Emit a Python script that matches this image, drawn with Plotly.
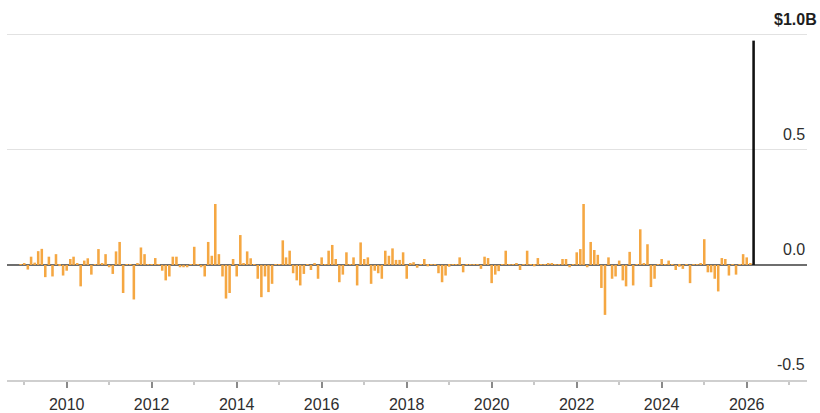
import pandas as pd
import plotly.graph_objects as go

# Monthly net flows, $ billions, Dec 2008 through Feb 2026
start_month = "2008-12-01"
flows = [
    0.004, 0.006, -0.02, 0.036, 0.01, 0.06, 0.07, -0.053, 0.036, -0.05,
    0.047, -0.005, -0.046, -0.025, 0.026, 0.036, 0.005, -0.093, 0.019, 0.029,
    -0.042, 0.003, 0.069, 0.005, 0.047, -0.01, -0.039, 0.059, 0.10, -0.122,
    0.003, 0.002, -0.15, 0.008, 0.076, 0.047, 0.004, 0.002, 0.030, 0.004,
    -0.025, -0.067, -0.05, 0.036, 0.036, -0.01, -0.01, -0.01, 0.003, 0.079,
    0.002, -0.01, -0.05, 0.10, 0.04, 0.265, 0.047, -0.05, -0.146, -0.122,
    0.026, -0.05, 0.13, 0.005, 0.059, 0.029, 0.003, -0.06, -0.14, -0.05,
    -0.118, -0.082, 0.004, 0.003, 0.107, 0.033, 0.062, -0.036, -0.067, -0.089,
    -0.039, 0.004, -0.022, 0.006, -0.06, 0.033, 0.004, 0.062, 0.087, 0.026,
    -0.075, -0.042, 0.055, 0.004, 0.033, -0.089, 0.098, 0.026, 0.033, -0.082,
    -0.025, -0.036, -0.06, 0.062, 0.04, 0.072, 0.022, 0.022, 0.055, -0.06,
    0.008, 0.012, -0.012, 0.004, 0.026, -0.006, 0.003, 0.004, -0.036, -0.075,
    -0.046, -0.008, 0.003, 0.004, 0.033, -0.032, 0.003, 0.002, 0.004, 0.003,
    -0.017, 0.036, 0.03, -0.079, -0.042, -0.027, 0.004, 0.062, 0.004, 0.003,
    0.005, -0.022, 0.003, 0.062, 0.004, -0.006, 0.03, 0.004, 0.003, 0.005,
    0.008, 0.003, 0.004, 0.026, 0.026, -0.01, 0.004, 0.055, 0.069, 0.265,
    -0.01, 0.10, 0.065, 0.044, -0.10, -0.217, 0.033, -0.06, -0.05, 0.019,
    -0.067, -0.093, 0.057, -0.089, 0.004, 0.155, 0.005, 0.09, -0.096, -0.06,
    0.004, 0.026, 0.004, 0.019, 0.003, -0.022, -0.008, -0.017, 0.004, -0.079,
    0.003, 0.004, 0.005, 0.112, -0.032, -0.032, -0.06, -0.115, 0.03, 0.026,
    -0.046, 0.004, -0.042, 0.003, 0.047, 0.033, 0.005,
]
# Latest month, highlighted
latest_month = "2026-03-01"
latest_flow = 0.975

y_tick_vals = [-0.5, 0.0, 0.5, 1.0]
y_tick_text = ["-0.5", "0.0", "0.5", "$1.0B"]

months = pd.date_range(start_month, periods=len(flows), freq="MS")
bar_width_ms = 22 * 24 * 3600 * 1000

ORANGE = "#F5A742"
TEXT = "#2e2e2e"

fig = go.Figure()
fig.add_trace(go.Bar(x=months, y=flows, width=bar_width_ms,
                     marker=dict(color=ORANGE, line=dict(width=0))))
fig.add_trace(go.Bar(x=[pd.Timestamp(latest_month)], y=[latest_flow],
                     width=bar_width_ms,
                     marker=dict(color="#111111", line=dict(width=0))))

fig.update_layout(
    width=820, height=413,
    margin=dict(l=7, r=13, t=0, b=29),
    paper_bgcolor="white", plot_bgcolor="white",
    barmode="overlay", showlegend=False,
    font=dict(family="Liberation Sans, Arial, sans-serif", size=16, color=TEXT),
)

fig.update_xaxes(
    type="date",
    range=["2008-08-06", "2027-06-03"],
    tick0="2010-01-01", dtick="M24", tickformat="%Y",
    ticks="outside", ticklen=6, tickwidth=1.5, tickcolor="#8a8a8a",
    showline=True, linecolor="#cfcfcf", linewidth=1.5,
    showgrid=False, zeroline=False,
    ticklabelstandoff=3,
    tickfont=dict(size=16, color=TEXT),
    minor=dict(ticks="outside", ticklen=3, tickcolor="#c8c8c8",
               tick0="2009-01-01", dtick="M12", showgrid=False),
)

fig.update_yaxes(
    range=[-0.5, 1.1516],
    tickvals=y_tick_vals, showticklabels=False,
    showgrid=True, gridcolor="#e2e2e2", gridwidth=1,
    zeroline=True, zerolinecolor="#6e6e6e", zerolinewidth=1.6,
    showline=False,
)

# Value labels sit just above their gridlines at the right edge
for val, txt in zip(y_tick_vals, y_tick_text):
    is_top = val == max(y_tick_vals)
    fig.add_annotation(
        x=1.0, xref="paper", y=val, yref="y",
        xanchor="right", yanchor="bottom",
        xshift=12 if is_top else 0, yshift=5,
        text=f"<b>{txt}</b>" if is_top else txt,
        showarrow=False,
        font=dict(size=16, color="#1e1e1e" if is_top else TEXT),
    )

fig.write_html("out.html")
